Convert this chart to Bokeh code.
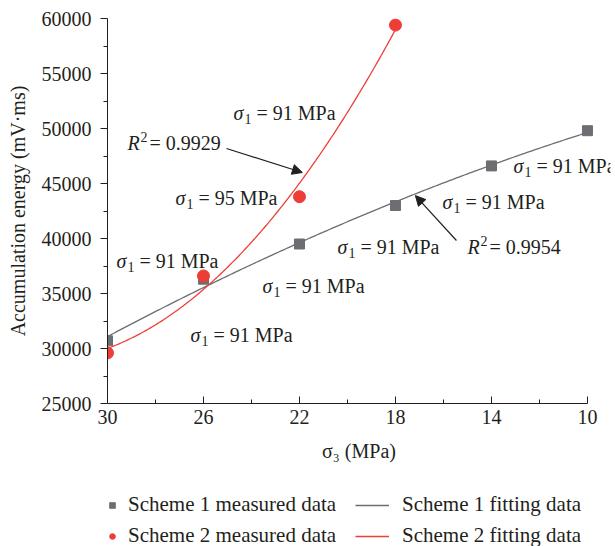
import numpy as np
from bokeh.plotting import figure
from bokeh.layouts import column
from bokeh.models import (Range1d, FixedTicker, ColumnDataSource, LabelSet,
                          Arrow, NormalHead, Legend, LegendItem)
from bokeh.embed import file_html
from bokeh.resources import INLINE

# ---- measured data -------------------------------------------------------
scheme1_sigma3 = [30, 26, 22, 18, 14, 10]
scheme1_energy = [30700, 36300, 39500, 43000, 46600, 49800]
scheme2_sigma3 = [30, 26, 22, 18]
scheme2_energy = [29600, 36600, 43800, 59400]

x_ticks = [30, 26, 22, 18, 14, 10]
x_minor = [28, 24, 20, 16, 12]
y_ticks = [25000, 30000, 35000, 40000, 45000, 50000, 55000, 60000]
y_minor = [27500, 32500, 37500, 42500, 47500, 52500, 57500]

# sigma_1 annotations (data position of the label's left edge, value)
sig1_x = [24.75, 27.17, 29.63, 23.54, 26.54, 20.42, 16.04, 13.08]
sig1_y = [51400, 43700, 38000, 35700, 31200, 39200, 43300, 46600]
sig1_val = ["91", "95", "91", "91", "91", "91", "91", "91"]

# R^2 annotations and their arrows
r2_x = [29.17, 15.0]
r2_y = [48700, 39200]
r2_val = ["0.9929", "0.9954"]
arrow_start = [(25.04, 48180), (15.46, 39820)]
arrow_end = [(21.88, 46000), (17.17, 43900)]

GRAY = "#6d6e71"
RED = "#ee3d37"
INK = "#231f20"
FONT = "Liberation Serif"

# ---- quadratic fits ------------------------------------------------------
c1 = np.polyfit(scheme1_sigma3, scheme1_energy, 2)
c2 = np.polyfit(scheme2_sigma3, scheme2_energy, 2)
xf1 = np.linspace(30, 10, 200)
xf2 = np.linspace(30, 18, 200)
yf1 = np.polyval(c1, xf1)
yf2 = np.polyval(c2, xf2)

# the frame runs a little past sigma_3 = 10 so the right-hand label fits;
# the axis itself stops at 10
p = figure(width=615, height=470, output_backend="svg", toolbar_location=None,
           x_range=Range1d(30, 9.04), y_range=Range1d(25000, 60000),
           min_border_left=107, min_border_right=5, min_border_top=18,
           min_border_bottom=67)
p.outline_line_color = None
p.xgrid.visible = False
p.ygrid.visible = False
p.background_fill_color = "white"
p.border_fill_color = "white"

# axes
for ax in (p.xaxis[0], p.yaxis[0]):
    ax.axis_line_color = INK
    ax.major_tick_line_color = INK
    ax.minor_tick_line_color = INK
    ax.major_label_text_font = FONT
    ax.major_label_text_font_size = "20px"
    ax.major_label_text_color = INK
    ax.axis_label_text_font = FONT
    ax.axis_label_text_font_style = "normal"
    ax.axis_label_text_font_size = "20px"
    ax.axis_label_text_color = INK

p.xaxis.bounds = (10, 30)
p.xaxis.ticker = FixedTicker(ticks=x_ticks, minor_ticks=x_minor)
p.xaxis.major_label_overrides = {t: str(t) for t in x_ticks}
p.xaxis.major_tick_in = 7
p.xaxis.major_tick_out = 0
p.xaxis.minor_tick_in = 4
p.xaxis.minor_tick_out = 0
p.xaxis.major_label_standoff = 6
p.xaxis.axis_label = "σ₃ (MPa)"
p.xaxis.axis_label_standoff = 13

p.yaxis.ticker = FixedTicker(ticks=y_ticks, minor_ticks=y_minor)
p.yaxis.major_label_overrides = {t: str(t) for t in y_ticks}
p.yaxis.major_tick_in = 0
p.yaxis.major_tick_out = 7
p.yaxis.minor_tick_in = 0
p.yaxis.minor_tick_out = 4
p.yaxis.major_label_standoff = 9
p.yaxis.axis_label = "Accumulation energy (mV·ms)"
p.yaxis.axis_label_standoff = 10

# fitted curves
p.line(xf1, yf1, line_color=GRAY, line_width=1.3)
p.line(xf2, yf2, line_color=RED, line_width=1.3)

# measured points
p.scatter(scheme1_sigma3, scheme1_energy, marker="square", size=10,
          fill_color=GRAY, line_color=GRAY)
p.scatter(scheme2_sigma3, scheme2_energy, marker="circle", size=12,
          fill_color=RED, line_color=RED)

# sigma_1 labels: italic sigma, subscript 1, then the value
sig_src = ColumnDataSource(dict(x=sig1_x, y=sig1_y,
                                sym=["σ"] * len(sig1_x),
                                sub=["1"] * len(sig1_x),
                                rest=["= %s MPa" % v for v in sig1_val]))
common = dict(x="x", y="y", source=sig_src, text_font=FONT, text_color=INK,
              text_baseline="middle")
p.add_layout(LabelSet(text="sym", text_font_style="italic", text_font_size="20px", **common))
p.add_layout(LabelSet(text="sub", text_font_size="14px", x_offset=11, y_offset=-6, **common))
p.add_layout(LabelSet(text="rest", text_font_size="20px", x_offset=23, **common))

# R^2 labels
r2_src = ColumnDataSource(dict(x=r2_x, y=r2_y, sym=["R"] * 2, sup=["2"] * 2,
                               rest=["= %s" % v for v in r2_val]))
common = dict(x="x", y="y", source=r2_src, text_font=FONT, text_color=INK,
              text_baseline="middle")
p.add_layout(LabelSet(text="sym", text_font_style="italic", text_font_size="20px", **common))
p.add_layout(LabelSet(text="sup", text_font_size="14px", x_offset=13, y_offset=6, **common))
p.add_layout(LabelSet(text="rest", text_font_size="20px", x_offset=22, **common))

for (xs, ys), (xe, ye) in zip(arrow_start, arrow_end):
    p.add_layout(Arrow(x_start=xs, y_start=ys, x_end=xe, y_end=ye,
                       line_color=INK, line_width=1.2,
                       end=NormalHead(size=10, fill_color=INK, line_color=INK)))

# ---- legend strip under the chart ---------------------------------------
# (its frame lines up with the chart frame above it)
lg = figure(width=615, height=76, output_backend="svg", toolbar_location=None,
            x_range=Range1d(0, 1), y_range=Range1d(0, 1),
            x_axis_location=None, y_axis_location=None,
            min_border_left=107, min_border_right=5,
            min_border_top=0, min_border_bottom=0)
lg.outline_line_color = None
lg.xgrid.visible = False
lg.ygrid.visible = False
lg.background_fill_color = "white"
lg.border_fill_color = "white"

# legend keys; their single point lies outside the strip's range
key = dict(x=[-5], y=[-5])
k1 = lg.scatter("x", "y", source=ColumnDataSource(key), marker="square", size=10,
                fill_color=GRAY, line_color=GRAY)
k2 = lg.scatter("x", "y", source=ColumnDataSource(key), marker="circle", size=12,
                fill_color=RED, line_color=RED)
k3 = lg.line("x", "y", source=ColumnDataSource(key), line_color=GRAY, line_width=1.3)
k4 = lg.line("x", "y", source=ColumnDataSource(key), line_color=RED, line_width=1.3)

leg_style = dict(border_line_color=None, background_fill_alpha=0, padding=0, margin=0,
                 label_text_font=FONT, label_text_font_size="21px",
                 label_text_color=INK, label_height=20, glyph_height=20, spacing=6)
lg.add_layout(Legend(items=[LegendItem(label="Scheme 1 measured data", renderers=[k1]),
                            LegendItem(label="Scheme 2 measured data", renderers=[k2])],
                     location=(-2, -2), glyph_width=14, label_standoff=9, **leg_style))
lg.add_layout(Legend(items=[LegendItem(label="Scheme 1 fitting data", renderers=[k3]),
                            LegendItem(label="Scheme 2 fitting data", renderers=[k4])],
                     location=(248, -2), glyph_width=34, label_standoff=13, **leg_style))

layout = column(p, lg, spacing=0)
open("out.html", "w").write(file_html(layout, INLINE))
